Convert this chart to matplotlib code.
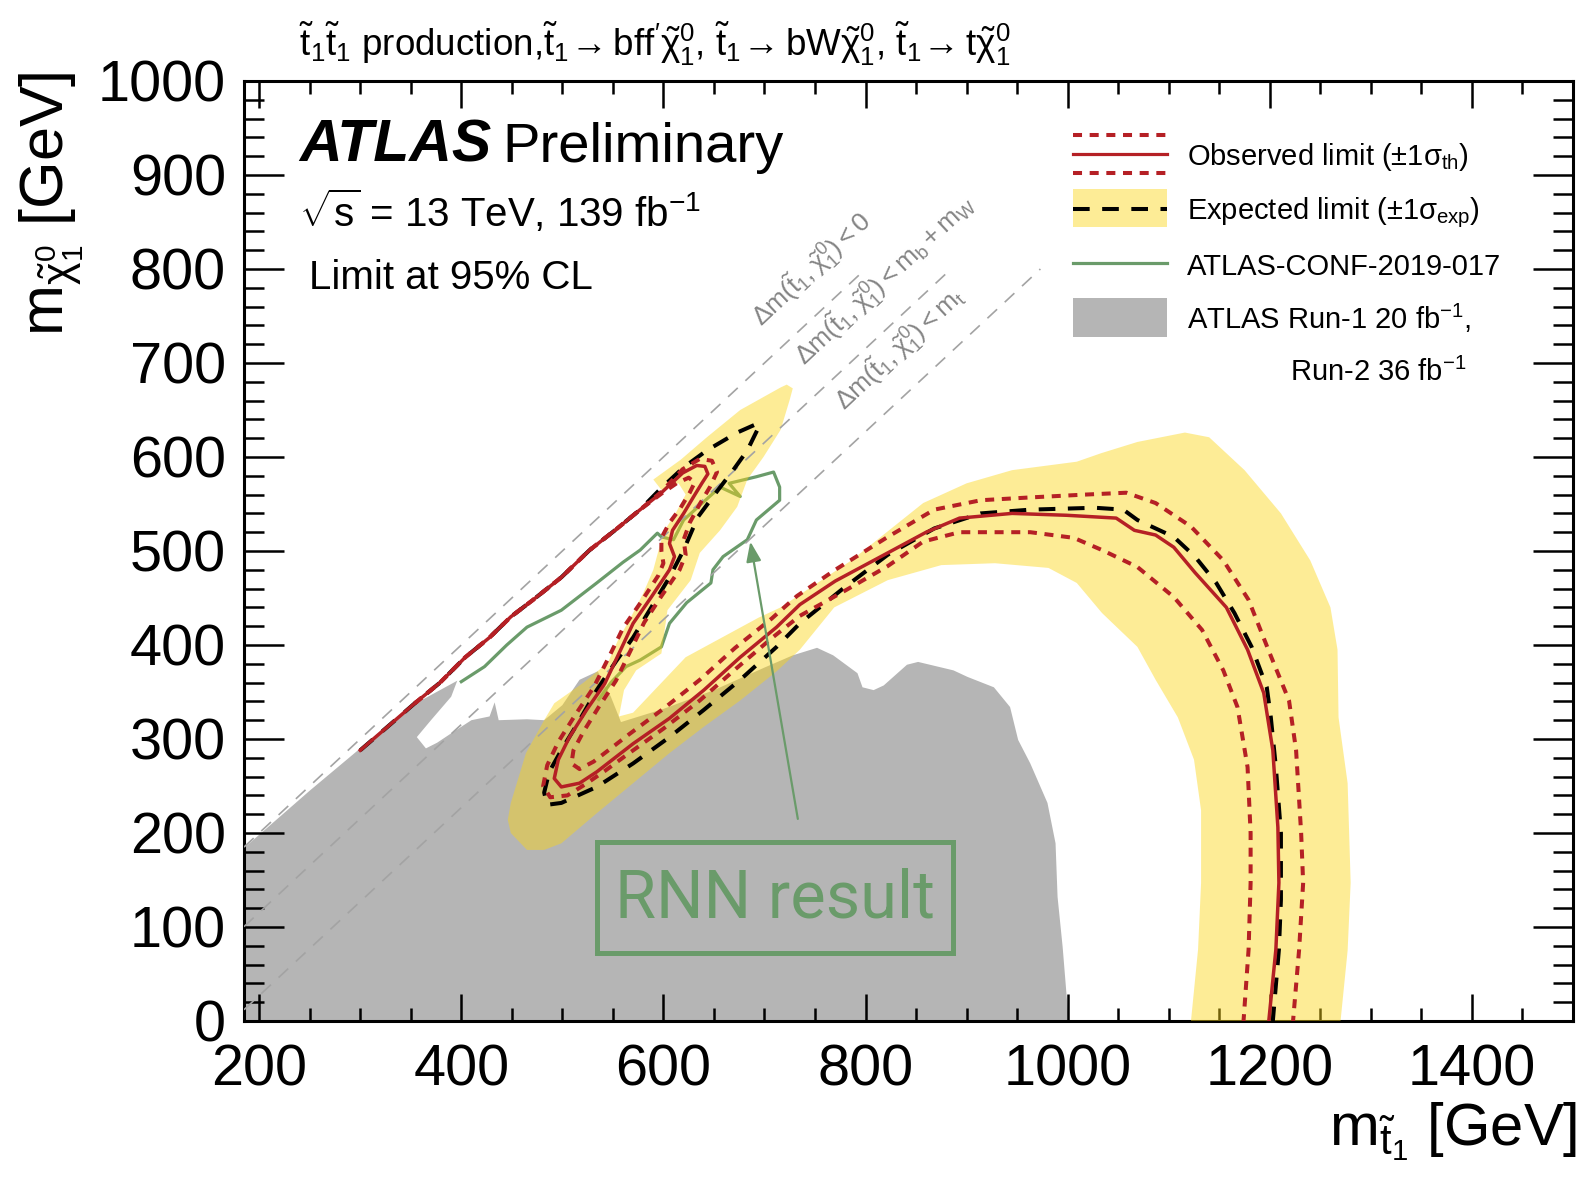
import numpy as np
import matplotlib
matplotlib.use('Agg')
import matplotlib.pyplot as plt
from matplotlib.patches import Rectangle, FancyArrowPatch
from matplotlib.lines import Line2D

plt.rcParams['font.family'] = ['Liberation Sans', 'DejaVu Sans']
plt.rcParams['mathtext.fontset'] = 'custom'
plt.rcParams['mathtext.rm'] = 'Liberation Sans'
plt.rcParams['mathtext.it'] = 'Liberation Sans'
plt.rcParams['mathtext.bf'] = 'Liberation Sans:bold'
plt.rcParams['mathtext.sf'] = 'Liberation Sans'
plt.rcParams['lines.scale_dashes'] = False

# ---------------- data (m_stop, m_neutralino) in GeV ----------------
grey_x = [185, 185, 250, 300, 350, 396, 390, 370, 356, 365, 376, 390, 410, 428, 433, 437, 465, 482, 500, 517,
          535, 548, 558, 600, 650, 700, 728, 752, 768, 792, 797, 808, 818, 841, 852, 887, 901, 927, 943, 951,
          963, 980, 988, 990, 995, 1001]
grey_y = [0, 184, 245, 290, 335, 362, 345, 320, 302, 290, 296, 306, 320, 324, 339, 320, 321, 320, 336, 363,
          372, 345, 318, 332, 352, 376, 389, 397, 389, 370, 355, 352, 357, 379, 382, 373, 366, 355, 334, 299,
          274, 232, 189, 132, 79, 0]

band_x = [1122, 1129, 1132, 1132, 1125, 1109, 1087, 1069, 1034, 1009, 981, 928, 875, 822, 769, 735, 712, 676,
          640, 606, 570, 534, 499, 482, 465, 449, 446, 449, 464, 482, 492, 521, 545, 555, 568, 580, 590, 595,
          600, 612, 622, 615, 598, 590, 617, 643, 676, 716, 722, 728, 725, 716, 699, 683, 673, 656, 636, 627,
          604, 598, 573, 561, 556, 570, 622, 694, 716, 786, 857, 900, 945, 1009, 1033, 1069, 1116, 1140, 1175,
          1211, 1240, 1260, 1267, 1268, 1277, 1280, 1277, 1270]
band_y = [0, 76, 147, 224, 278, 323, 363, 398, 434, 466, 482, 487, 485, 469, 440, 395, 372, 341,
          313, 285, 253, 221, 189, 182, 182, 200, 214, 232, 285, 320, 338, 360, 381, 405, 430, 455, 480, 500,
          520, 540, 560, 572, 565, 576, 597, 621, 650, 674, 677, 673, 661, 629, 600, 576, 547, 522, 498, 469,
          437, 391, 373, 352, 324, 328, 387, 429, 440, 490, 551, 572, 586, 595, 604, 616, 626, 621, 586,
          540, 490, 440, 395, 323, 253, 147, 75, 0]

obs_x = [300, 354, 379, 404, 428, 449, 471, 499, 527, 552, 577, 598, 619, 633, 641, 644, 638, 630, 620, 609,
         606, 611, 606, 588, 570, 556, 542, 524, 507, 496, 492, 499, 517, 534, 552, 570, 606, 640, 676, 712,
         735, 770, 822, 860, 893, 945, 999, 1048, 1066, 1087, 1105, 1126, 1157, 1178, 1194, 1203, 1208, 1209,
         1206, 1199]
obs_y = [288, 338, 360, 387, 408, 430, 448, 472, 501, 522, 544, 562, 583, 591, 590, 582, 572, 558, 540, 522,
         508, 494, 480, 451, 423, 391, 359, 331, 302, 278, 258, 249, 253, 265, 280, 295, 322, 352, 387, 419,
         443, 468, 498, 520, 535, 540, 538, 535, 522, 517, 504, 477, 440, 395, 349, 288, 206, 147,
         76, 0]

obs_up_x = [354, 379, 404, 428, 449, 471, 499, 527, 552, 577, 598, 619, 636, 648, 653, 646, 636, 626,
            620, 622, 616, 598, 581, 567, 553, 536, 521, 511, 509, 517, 531, 548, 566, 601, 636, 671, 707, 732,
            770, 822, 868, 914, 963, 1017, 1058, 1087, 1122, 1154, 1179, 1200, 1219, 1226, 1231, 1233, 1229, 1223]
obs_up_y = [338, 360, 387, 408, 430, 448, 472, 501, 522, 544, 563, 587, 598, 596, 584, 568, 550, 530,
            512, 496, 480, 452, 424, 393, 362, 334, 308, 288, 274, 268, 276, 290, 305, 333, 363, 397, 428, 452,
            480, 515, 544, 554, 557, 560, 562, 551, 526, 490, 448, 391, 341, 288, 200, 147, 76, 0]

obs_dn_x = [354, 379, 404, 428, 449, 471, 499, 527, 552, 577, 598, 613, 625, 631, 626, 617, 606, 598, 598,
            600, 595, 578, 560, 546, 531, 513, 496, 485, 481, 488, 505, 523, 542, 561, 600, 636, 672, 708, 735,
            780, 822, 857, 893, 963, 1006, 1034, 1069, 1105, 1133, 1154, 1168, 1178, 1181, 1181, 1179, 1174]
obs_dn_y = [338, 360, 387, 408, 430, 448, 472, 501, 522, 544, 561, 572, 578, 573, 562, 546, 530, 514, 500,
            487, 474, 446, 418, 387, 355, 326, 297, 272, 250, 238, 240, 252, 266, 281, 311, 341, 375, 408, 431,
            458, 484, 510, 520, 520, 514, 501, 483, 451, 416, 373, 334, 270, 200, 147, 76, 0]

exp_x = [300, 354, 379, 404, 428, 449, 471, 499, 527, 552, 577, 597, 620, 643, 673, 694, 693, 683, 669, 652,
         634, 620, 606, 588, 570, 552, 534, 517, 500, 487, 482, 485, 499, 534, 570, 606, 640, 676, 712, 735,
         780, 822, 868, 914, 963, 1027, 1055, 1069, 1105, 1126, 1147, 1165, 1182, 1197, 1201, 1206, 1211, 1211,
         1209, 1203]
exp_y = [288, 338, 360, 387, 408, 430, 448, 472, 501, 522, 544, 566, 589, 607, 626, 636, 629, 607, 586, 562,
         536, 501, 472, 440, 408, 381, 352, 320, 290, 265, 243, 230, 232, 249, 274, 302, 331, 363, 398, 423,
         462, 496, 524, 540, 544, 546, 544, 533, 515, 494, 466, 434, 398, 355, 323, 270, 200, 129,
         76, 0]

conf_x = [400, 423, 445, 465, 499, 534, 560, 577, 594, 598, 610, 620, 656, 676, 665, 692, 709, 715, 715, 692,
          683, 659, 649, 647, 623, 606, 598, 577, 563, 548, 536]
conf_y = [361, 377, 400, 419, 437, 466, 488, 501, 519, 515, 512, 533, 568, 558, 572, 579, 584, 568, 554, 533,
          512, 494, 480, 466, 445, 423, 398, 384, 377, 360, 342]

# kinematic boundaries: Delta m = 0, m_b + m_W, m_t
diag_dm = [0.0, 84.6, 173.0]
diag_labels = [r'$\Delta m(\tilde{t}_{1},\tilde{\chi}^{0}_{1}) < 0$',
               r'$\Delta m(\tilde{t}_{1},\tilde{\chi}^{0}_{1}) < m_{b} + m_{W}$',
               r'$\Delta m(\tilde{t}_{1},\tilde{\chi}^{0}_{1}) < m_{t}$']
diag_label_x = [697, 740, 780]

arrow_tail = (733, 215)
arrow_head = (686, 510)

xticks = [200, 400, 600, 800, 1000, 1200, 1400]
yticks = [0, 100, 200, 300, 400, 500, 600, 700, 800, 900, 1000]

# ---------------- figure ----------------
W, H = 1589, 1186
fig = plt.figure(figsize=(W / 100, H / 100), dpi=100)
ax = fig.add_axes([244 / W, 1 - 1021 / H, (1573 - 244) / W, (1021 - 81) / H])
ax.set_xlim(185, 1500)
ax.set_ylim(0, 1000)

RED = '#b52025'
GREEN = '#6a9b6a'
GREY = '#b5b5b5'
YELLOW = (0.985, 0.84, 0.09, 0.45)

ax.fill(grey_x, grey_y, color=GREY, lw=0, zorder=1)
ax.plot(conf_x, conf_y, color=GREEN, lw=2.3, zorder=2, solid_joinstyle='round')
ax.fill(band_x, band_y, color=YELLOW, lw=0, zorder=3)

for dm in diag_dm:
    xs = np.array([185.0, 800.0 + dm])
    ax.plot(xs, xs - dm, color='#a3a3a3', lw=1.2, dashes=(9.5, 7.5), zorder=4)
for lab, lx, dm in zip(diag_labels, diag_label_x, diag_dm):
    ax.text(lx, lx - dm + 41, lab, rotation=43, rotation_mode='anchor', ha='left', va='baseline',
            fontsize=19, color='#858585', zorder=4)

ax.plot(exp_x, exp_y, color='black', lw=2.9, dashes=(12, 9), zorder=5)
ax.plot(obs_up_x, obs_up_y, color=RED, lw=2.9, dashes=(6.5, 5.5), zorder=6)
ax.plot(obs_dn_x, obs_dn_y, color=RED, lw=2.9, dashes=(6.5, 5.5), zorder=6)
ax.plot(obs_x, obs_y, color=RED, lw=2.5, zorder=7, solid_joinstyle='round')

arr = FancyArrowPatch(arrow_tail, arrow_head, arrowstyle='-|>,head_length=1.2,head_width=0.45',
                      mutation_scale=10, color=GREEN, lw=1.6, shrinkA=0, shrinkB=0, zorder=8)
ax.add_patch(arr)

# axes style
for s in ax.spines.values():
    s.set_linewidth(2.2)
ax.set_xticks(xticks)
ax.set_xticks(np.arange(200, 1501, 50), minor=True)
ax.set_yticks(yticks)
ax.set_yticks(np.arange(0, 1001, 20), minor=True)
ax.tick_params(which='both', direction='in', top=True, right=True, width=1.8)
ax.tick_params(axis='x', which='major', length=19.4, pad=16, labelsize=41.5)
ax.tick_params(axis='x', which='minor', length=9.7)
ax.tick_params(axis='y', which='major', length=28.8, pad=13, labelsize=41.5)
ax.tick_params(axis='y', which='minor', length=14.4)


def fx(px):
    return px / W


def fy(py):
    return 1 - py / H


# axis titles
fig.text(fx(1577), fy(1145), r'm$_{\tilde{t}_{1}}$ [GeV]', ha='right', va='baseline', fontsize=43)
fig.text(fx(52), fy(71), r'm$_{\tilde{\chi}^{0}_{1}}$ [GeV]', ha='center', va='top', rotation=90, fontsize=44)

# title
fig.text(fx(299), fy(56),
         r'$\tilde{t}_{1}\tilde{t}_{1}$ production,$\tilde{t}_{1}\!\rightarrow$bff$^{\prime}\tilde{\chi}^{0}_{1}$, '
         r'$\tilde{t}_{1}\!\rightarrow$bW$\tilde{\chi}^{0}_{1}$, $\tilde{t}_{1}\!\rightarrow$t$\tilde{\chi}^{0}_{1}$',
         ha='left', va='baseline', fontsize=26.5)

# ATLAS label
fig.text(fx(299), fy(162), 'ATLAS', fontsize=42.5, fontweight='bold', style='italic', va='baseline')
fig.text(fx(502), fy(162), 'Preliminary', fontsize=40.5, va='baseline')
fig.text(fx(299), fy(227), r'$\sqrt{s}$ = 13 TeV, 139 fb$^{-1}$', fontsize=29, va='baseline')
fig.text(fx(309), fy(289), 'Limit at 95% CL', fontsize=29, va='baseline')

# RNN result box
fig.patches.append(Rectangle((fx(597), fy(953)), (953 - 597) / W, (953 - 842) / H, transform=fig.transFigure,
                             fill=False, edgecolor=GREEN, lw=3.6, zorder=10))
fig.text(fx(775), fy(899), 'RNN result', fontsize=48, color=GREEN, ha='center', va='center',
         family=['Roboto', 'DejaVu Sans'], zorder=10)

# legend
lx0, lx1 = 1073, 1167
for yy in (135, 173):
    fig.add_artist(Line2D([fx(lx0), fx(lx1)], [fy(yy)] * 2, color=RED, lw=2.9, dashes=(6.5, 5.5)))
fig.add_artist(Line2D([fx(lx0), fx(lx1)], [fy(154)] * 2, color=RED, lw=2.3))
fig.patches.append(Rectangle((fx(lx0), fy(227)), (lx1 - lx0) / W, 38 / H, transform=fig.transFigure,
                             facecolor=YELLOW, lw=0))
fig.add_artist(Line2D([fx(lx0), fx(lx1)], [fy(209)] * 2, color='black', lw=2.9, dashes=(12, 9)))
fig.add_artist(Line2D([fx(lx0), fx(lx1)], [fy(263)] * 2, color=GREEN, lw=2.3))
fig.patches.append(Rectangle((fx(lx0), fy(337)), (lx1 - lx0) / W, 39 / H, transform=fig.transFigure,
                             facecolor=GREY, lw=0))
tx = fx(1187)
fig.text(tx, fy(165), r'Observed limit ($\pm1\sigma_{\mathrm{th}}$)', fontsize=21, va='baseline')
fig.text(tx, fy(219), r'Expected limit ($\pm1\sigma_{\mathrm{exp}}$)', fontsize=21, va='baseline')
fig.text(tx, fy(275), 'ATLAS-CONF-2019-017', fontsize=21, va='baseline')
fig.text(tx, fy(329), r'ATLAS Run-1 20 fb$^{-1}$,', fontsize=21, va='baseline')
fig.text(fx(1290), fy(381), r'Run-2 36 fb$^{-1}$', fontsize=21, va='baseline')

fig.savefig('out.png', dpi=100)
